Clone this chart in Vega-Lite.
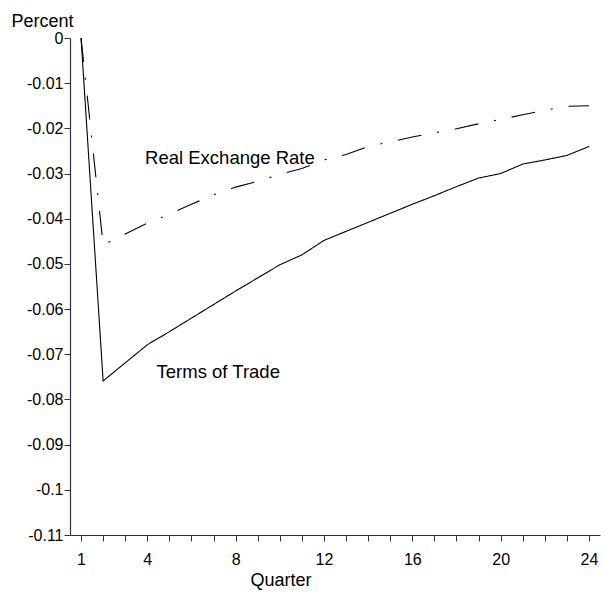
{
  "$schema": "https://vega.github.io/schema/vega-lite/v6.json",
  "autosize": "none",
  "width": 530,
  "height": 497,
  "padding": {"left": 70, "top": 38, "right": 5, "bottom": 60},
  "background": "white",
  "config": {
    "view": {"stroke": null},
    "font": "Liberation Sans",
    "axis": {"labelOverlap": false, "grid": false}
  },
  "datasets": {
    "series": [
      {"q": 1, "s": "Terms of Trade", "v": 0},
      {"q": 2, "s": "Terms of Trade", "v": -0.0759},
      {"q": 3, "s": "Terms of Trade", "v": -0.0719},
      {"q": 4, "s": "Terms of Trade", "v": -0.0679},
      {"q": 5, "s": "Terms of Trade", "v": -0.0650},
      {"q": 6, "s": "Terms of Trade", "v": -0.0620},
      {"q": 7, "s": "Terms of Trade", "v": -0.0590},
      {"q": 8, "s": "Terms of Trade", "v": -0.0560},
      {"q": 9, "s": "Terms of Trade", "v": -0.0531},
      {"q": 10, "s": "Terms of Trade", "v": -0.0502},
      {"q": 11, "s": "Terms of Trade", "v": -0.0480},
      {"q": 12, "s": "Terms of Trade", "v": -0.0448},
      {"q": 13, "s": "Terms of Trade", "v": -0.0428},
      {"q": 14, "s": "Terms of Trade", "v": -0.0408},
      {"q": 15, "s": "Terms of Trade", "v": -0.0388},
      {"q": 16, "s": "Terms of Trade", "v": -0.0368},
      {"q": 17, "s": "Terms of Trade", "v": -0.0349},
      {"q": 18, "s": "Terms of Trade", "v": -0.0329},
      {"q": 19, "s": "Terms of Trade", "v": -0.0310},
      {"q": 20, "s": "Terms of Trade", "v": -0.0300},
      {"q": 21, "s": "Terms of Trade", "v": -0.0279},
      {"q": 22, "s": "Terms of Trade", "v": -0.0270},
      {"q": 23, "s": "Terms of Trade", "v": -0.0260},
      {"q": 24, "s": "Terms of Trade", "v": -0.0240},
      {"q": 1, "s": "Real Exchange Rate", "v": 0},
      {"q": 2, "s": "Real Exchange Rate", "v": -0.0458},
      {"q": 3, "s": "Real Exchange Rate", "v": -0.0434},
      {"q": 4, "s": "Real Exchange Rate", "v": -0.0410},
      {"q": 5, "s": "Real Exchange Rate", "v": -0.0390},
      {"q": 6, "s": "Real Exchange Rate", "v": -0.0368},
      {"q": 7, "s": "Real Exchange Rate", "v": -0.0347},
      {"q": 8, "s": "Real Exchange Rate", "v": -0.0330},
      {"q": 9, "s": "Real Exchange Rate", "v": -0.0317},
      {"q": 10, "s": "Real Exchange Rate", "v": -0.0302},
      {"q": 11, "s": "Real Exchange Rate", "v": -0.0289},
      {"q": 12, "s": "Real Exchange Rate", "v": -0.0270},
      {"q": 13, "s": "Real Exchange Rate", "v": -0.0258},
      {"q": 14, "s": "Real Exchange Rate", "v": -0.0240},
      {"q": 15, "s": "Real Exchange Rate", "v": -0.0230},
      {"q": 16, "s": "Real Exchange Rate", "v": -0.0219},
      {"q": 17, "s": "Real Exchange Rate", "v": -0.0210},
      {"q": 18, "s": "Real Exchange Rate", "v": -0.0201},
      {"q": 19, "s": "Real Exchange Rate", "v": -0.0190},
      {"q": 20, "s": "Real Exchange Rate", "v": -0.0180},
      {"q": 21, "s": "Real Exchange Rate", "v": -0.0170},
      {"q": 22, "s": "Real Exchange Rate", "v": -0.0160},
      {"q": 23, "s": "Real Exchange Rate", "v": -0.0151},
      {"q": 24, "s": "Real Exchange Rate", "v": -0.0150}
    ],
    "labels": [
      {"label": "Real Exchange Rate", "q": 3.9, "v": -0.0279},
      {"label": "Terms of Trade", "q": 4.42, "v": -0.0753}
    ]
  },
  "layer": [
    {
      "data": {"name": "series"},
      "mark": {"type": "line", "color": "black", "strokeWidth": 1.1},
      "encoding": {
        "x": {
          "field": "q",
          "type": "quantitative",
          "scale": {"domain": [0.5, 24.5], "nice": false, "zero": false},
          "axis": {
            "title": "Quarter",
            "titleFont": "Liberation Sans",
            "titleFontSize": 18,
            "titleFontWeight": "normal",
            "titleColor": "black",
            "titleAnchor": "start",
            "titleAlign": "left",
            "titleBaseline": "alphabetic",
            "titleX": 180,
            "titleY": 50,
            "values": [1,2,3,4,5,6,7,8,9,10,11,12,13,14,15,16,17,18,19,20,21,22,23,24],
            "tickCount": 30,
            "labelExpr": "(datum.value == 1 || datum.value % 4 == 0) ? datum.label : ''",
            "labelOverlap": false,
            "labelFont": "Liberation Sans",
            "labelFontSize": 16,
            "labelColor": "black",
            "labelPadding": 10,
            "tickSize": 6,
            "tickColor": "#333333",
            "domainColor": "#2e2e5c",
            "domainWidth": 1.2,
            "grid": false
          }
        },
        "y": {
          "field": "v",
          "type": "quantitative",
          "scale": {"domain": [-0.11, 0], "nice": false, "zero": false},
          "axis": {
            "title": "Percent",
            "titleFont": "Liberation Sans",
            "titleFontSize": 18,
            "titleFontWeight": "normal",
            "titleColor": "black",
            "titleAngle": 0,
            "titleAlign": "left",
            "titleBaseline": "alphabetic",
            "titleX": -59,
            "titleY": -12,
            "values": [0, -0.01, -0.02, -0.03, -0.04, -0.05, -0.06, -0.07, -0.08, -0.09, -0.1, -0.11],
            "tickCount": 20,
            "labelExpr": "datum.value == 0 ? '0' : '-' + format(-datum.value, '~g')",
            "labelOverlap": false,
            "labelFont": "Liberation Sans",
            "labelFontSize": 16,
            "labelColor": "black",
            "labelPadding": 1,
            "tickSize": 6,
            "tickColor": "#333333",
            "domainColor": "#2e2e5c",
            "domainWidth": 1.2,
            "grid": false
          }
        },
        "detail": {"field": "s"},
        "strokeDash": {
          "field": "s",
          "type": "nominal",
          "scale": {
            "domain": ["Terms of Trade", "Real Exchange Rate"],
            "range": [[1, 0], [24, 16, 2, 16]]
          },
          "legend": null
        }
      }
    },
    {
      "mark": {"type": "rule", "color": "black", "strokeWidth": 1},
      "encoding": {"y": {"datum": 0}}
    },
    {
      "data": {"name": "labels"},
      "mark": {"type": "text", "align": "left", "baseline": "alphabetic", "font": "Liberation Sans", "fontSize": 18.5, "color": "black"},
      "encoding": {
        "x": {"field": "q", "type": "quantitative"},
        "y": {"field": "v", "type": "quantitative"},
        "text": {"field": "label"}
      }
    }
  ]
}
